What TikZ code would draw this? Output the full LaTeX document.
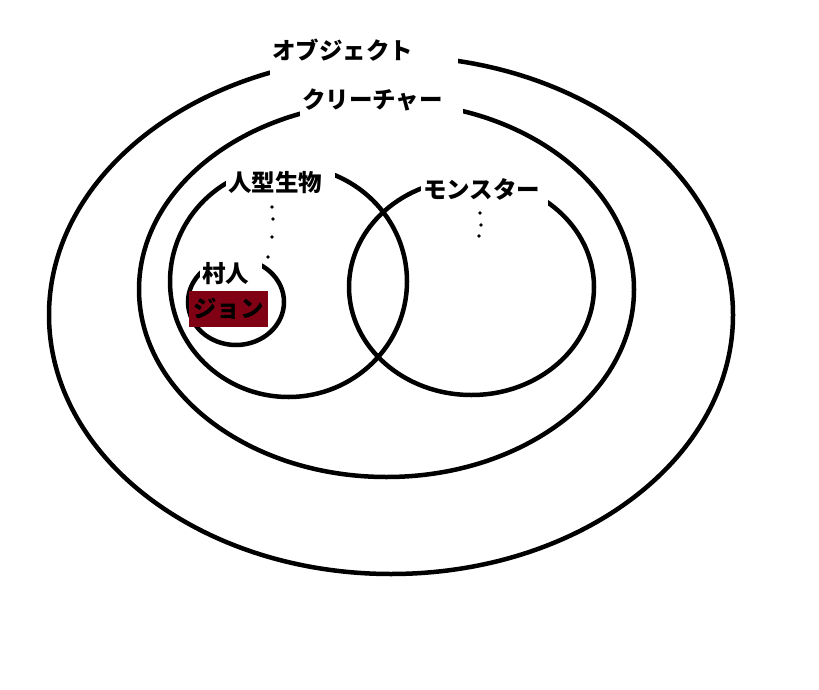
\documentclass[tikz,border=0pt]{standalone}
\usepackage{fontspec}
\setmainfont{Noto Sans CJK JP}
\definecolor{johnred}{RGB}{128,0,20}
\tikzset{
  ring/.style={line width=4.5pt},
  tag/.style={fill=white,inner xsep=2pt,inner ysep=0pt,anchor=west,align=left,
    font=\bfseries\fontsize{23.5}{24}\selectfont},
}
\begin{document}
\begin{tikzpicture}[x=1pt,y=-1pt]
\useasboundingbox (0,0) rectangle (819,690);
\draw[ring] (391,315) ellipse [x radius=342,y radius=259];
\draw[ring] (386.5,289.5) ellipse [x radius=247.5,y radius=187.5];
\draw[ring] (288.5,281.5) ellipse [x radius=118.5,y radius=115.5];
\draw[ring] (471.5,287) ellipse [x radius=122.5,y radius=108];
\draw[ring] (236,302) ellipse [x radius=48,y radius=43];
\node[tag,text width=184pt,minimum height=64pt] (object) at (270,50) {オブジェクト};
\node[tag,text width=159pt,minimum height=56pt] (creature) at (300,100) {クリーチャー};
\node[tag,text width=105pt,minimum height=46pt] (humanoid) at (226,183) {人型生物};
\node[tag,text width=123pt,minimum height=44pt] (monster) at (421,189) {モンスター};
\node[tag,text width=58pt,minimum height=40pt] (villager) at (200,274) {村人};
\node[fill=johnred,inner sep=0pt,minimum width=79pt,minimum height=36pt,
  font=\bfseries\fontsize{23.5}{24}\selectfont] (john) at (228.5,309) {ジョン};
\foreach \p in {(272,207),(273,219),(272,237),(268,257),(480,213),(481,225),(479,236)}
  \fill \p circle (1.8pt);
\end{tikzpicture}
\end{document}
